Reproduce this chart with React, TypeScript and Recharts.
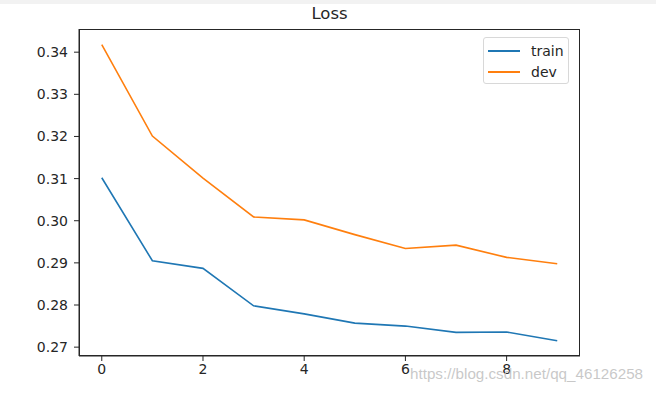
import React from "react"
import { LineChart, Line, XAxis, YAxis } from "recharts"

const epochs = [0, 1, 2, 3, 4, 5, 6, 7, 8, 9]
const trainLoss = [0.3102, 0.2905, 0.2887, 0.2798, 0.2779, 0.2757, 0.2750, 0.2735, 0.2736, 0.2715]
const devLoss = [0.3418, 0.3201, 0.3101, 0.3009, 0.3002, 0.2967, 0.2934, 0.2942, 0.2913, 0.2898]
const xTicks = [0, 2, 4, 6, 8]
const yTicks = [0.27, 0.28, 0.29, 0.3, 0.31, 0.32, 0.33, 0.34]
const seriesNames = ["train", "dev"]
const seriesColors = ["#1f77b4", "#ff7f0e"]

const data = epochs.map((e, i) => ({ epoch: e, train: trainLoss[i], dev: devLoss[i] }))

const font = "'DejaVu Sans', sans-serif"
const tickStyle = { fill: "#262626", fontSize: 14, fontFamily: font }

// plot box, matching the reference axes
const box = { left: 79, top: 29, right: 580, bottom: 356 }

function LegendBox() {
  return (
    <div
      style={{
        position: "absolute",
        left: 483,
        top: 37,
        width: 86,
        height: 47,
        boxSizing: "border-box",
        border: "1px solid #d8d8d8",
        borderRadius: 3,
        background: "rgba(255,255,255,0.8)",
        padding: "2px 4px",
        fontFamily: font,
        fontSize: 14,
        color: "#262626",
      }}
    >
      {seriesNames.map((name, i) => (
        <div key={name} style={{ display: "flex", alignItems: "center", height: 21 }}>
          <div style={{ width: 32, height: 2, background: seriesColors[i], marginRight: 11 }} />
          <span>{name}</span>
        </div>
      ))}
    </div>
  )
}

export default function App() {
  return (
    <div style={{ position: "absolute", left: 0, top: 0, width: 656, height: 394, background: "#fff", overflow: "hidden" }}>
      <div style={{ position: "absolute", left: 0, top: 0, width: 656, height: 4, background: "#f2f2f2" }} />
      <div
        style={{
          position: "absolute",
          left: box.left,
          width: box.right - box.left,
          top: 4,
          textAlign: "center",
          fontFamily: font,
          fontSize: 16.5,
          color: "#262626",
        }}
      >
        Loss
      </div>
      <LineChart width={656} height={394} data={data} margin={{ top: 29, right: 76, bottom: 8, left: 29 }}>
        <XAxis
          dataKey="epoch"
          type="number"
          domain={[-0.45, 9.45]}
          ticks={xTicks}
          allowDataOverflow
          height={30}
          tick={tickStyle}
          tickSize={5}
          tickMargin={3}
          tickLine={{ stroke: "#262626" }}
          axisLine={{ stroke: "#262626" }}
        />
        <YAxis
          type="number"
          domain={[0.2679, 0.3455]}
          ticks={yTicks}
          allowDataOverflow
          width={50}
          tick={tickStyle}
          tickSize={5}
          tickMargin={6}
          tickLine={{ stroke: "#262626" }}
          axisLine={{ stroke: "#262626" }}
          tickFormatter={(v: number) => v.toFixed(2)}
        />
        {seriesNames.map((name, i) => (
          <Line key={name} dataKey={name} stroke={seriesColors[i]} strokeWidth={1.6} dot={false} isAnimationActive={false} />
        ))}
      </LineChart>
      <div
        style={{
          position: "absolute",
          left: box.left,
          top: box.top,
          width: box.right - box.left,
          height: box.bottom - box.top,
          boxSizing: "border-box",
          border: "1px solid #262626",
          pointerEvents: "none",
        }}
      />
      <LegendBox />
      <div
        style={{
          position: "absolute",
          left: 410,
          top: 365,
          fontFamily: "'Liberation Sans', Arial, sans-serif",
          fontSize: 15.2,
          color: "rgba(190,190,190,0.85)",
          whiteSpace: "nowrap",
        }}
      >
        https://blog.csdn.net/qq_46126258
      </div>
    </div>
  )
}
